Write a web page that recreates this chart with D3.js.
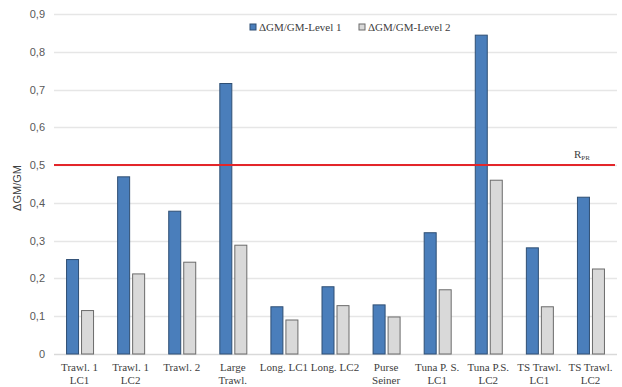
<!DOCTYPE html>
<html><head><meta charset="utf-8">
<script src="https://cdn.jsdelivr.net/npm/d3@7"></script>
<style>body{margin:0;background:#fff}
.serif{font-family:"Liberation Serif","Times New Roman","DejaVu Serif",serif}
.sans{font-family:"Liberation Sans",Arial,sans-serif}
</style>
</head><body><svg id="c" width="622" height="387"></svg>
<script>
const categories = [["Trawl. 1","LC1"],["Trawl. 1","LC2"],["Trawl. 2"],["Large","Trawl."],["Long. LC1"],["Long. LC2"],["Purse","Seiner"],["Tuna P. S.","LC1"],["Tuna P.S.","LC2"],["TS Trawl.","LC1"],["TS Trawl.","LC2"]];
const level1 = [0.25,0.469,0.378,0.716,0.125,0.178,0.13,0.321,0.844,0.281,0.415];
const level2 = [0.115,0.212,0.243,0.288,0.09,0.128,0.098,0.170,0.46,0.125,0.225];
const seriesNames = ["ΔGM/GM-Level 1","ΔGM/GM-Level 2"];
const yTicks = [0,0.1,0.2,0.3,0.4,0.5,0.6,0.7,0.8,0.9];
const refValue = 0.5;

const svg = d3.select("#c");
const m = {l:54, r:6, t:14, b:33};
const W = 622, H = 387;
const x = d3.scaleBand().domain(d3.range(categories.length)).range([m.l, W-m.r]);
const y = d3.scaleLinear().domain([0,0.9]).range([H-m.b, m.t]);
const fmt = d => d===0 ? "0" : d3.format(".1f")(d).replace(".", ",");

svg.append("g").selectAll("line").data(yTicks.filter(d=>d>0)).join("line")
  .attr("x1", m.l).attr("x2", W-m.r+1)
  .attr("y1", d=>Math.round(y(d))+0.5).attr("y2", d=>Math.round(y(d))+0.5)
  .attr("stroke","#e6e6e6").attr("stroke-width",1.5);
svg.append("line").attr("x1",m.l).attr("x2",W-m.r+1)
  .attr("y1",y(0)+0.5).attr("y2",y(0)+0.5).attr("stroke","#d9d9d9").attr("stroke-width",1.5);

const yAxis = d3.axisLeft(y).tickValues(yTicks).tickFormat(fmt).tickSize(0).tickPadding(9);
const ya = svg.append("g").attr("transform",`translate(${m.l},0)`).call(yAxis);
ya.select(".domain").remove();
ya.attr("font-family",null).attr("font-size",null);
ya.selectAll("text").attr("class","sans").attr("font-size",11).attr("fill","#595959");

svg.append("text").attr("class","sans").attr("transform",`translate(21,${(y(0)+y(0.9))/2+4}) rotate(-90)`)
  .attr("text-anchor","middle").attr("font-size",11).attr("fill","#404040").text("ΔGM/GM");

const bw = 12;
const g = svg.append("g");
g.selectAll("rect.l1").data(level1).join("rect").attr("class","l1")
  .attr("x",(d,i)=>x(i)+x.bandwidth()/2-bw-1).attr("width",bw)
  .attr("y",d=>y(d)).attr("height",d=>y(0)-y(d))
  .attr("fill","#4a7ebb").attr("stroke","#2f4f74").attr("stroke-width",1);
g.selectAll("rect.l2").data(level2).join("rect").attr("class","l2")
  .attr("x",(d,i)=>x(i)+x.bandwidth()/2+2).attr("width",bw)
  .attr("y",d=>y(d)).attr("height",d=>y(0)-y(d))
  .attr("fill","#d9d9d9").attr("stroke","#6b6b6b").attr("stroke-width",1);

svg.append("line").attr("x1",m.l).attr("x2",W-m.r-1)
  .attr("y1",y(refValue)).attr("y2",y(refValue))
  .attr("stroke","#e3262a").attr("stroke-width",2);
const rl = svg.append("text").attr("class","serif").attr("x",574).attr("y",y(refValue)-7)
  .attr("font-size",11).attr("fill","#404040");
rl.append("tspan").text("R");
rl.append("tspan").attr("font-size",7).attr("dy",2).text("PR");

const xl = svg.append("g").selectAll("text").data(categories).join("text").attr("class","serif")
  .attr("x",(d,i)=>x(i)+x.bandwidth()/2).attr("y",y(0)+17)
  .attr("text-anchor","middle").attr("font-size",11).attr("fill","#404040");
xl.selectAll("tspan").data(d=>d).join("tspan")
  .attr("x",function(){return this.parentNode.getAttribute("x");})
  .attr("dy",(d,i)=>i===0?0:13).text(d=>d);

const leg = [{name:seriesNames[0],fill:"#4a7ebb",stroke:"#2f4f74",x:250},{name:seriesNames[1],fill:"#d9d9d9",stroke:"#6b6b6b",x:359}];
const lg = svg.append("g").selectAll("g").data(leg).join("g").attr("transform",d=>`translate(${d.x},24)`);
lg.append("rect").attr("width",6).attr("height",6).attr("fill",d=>d.fill).attr("stroke",d=>d.stroke);
lg.append("text").attr("class","serif").attr("x",9).attr("y",7)
  .attr("font-size",11).attr("fill","#404040").text(d=>d.name);
</script></body></html>
